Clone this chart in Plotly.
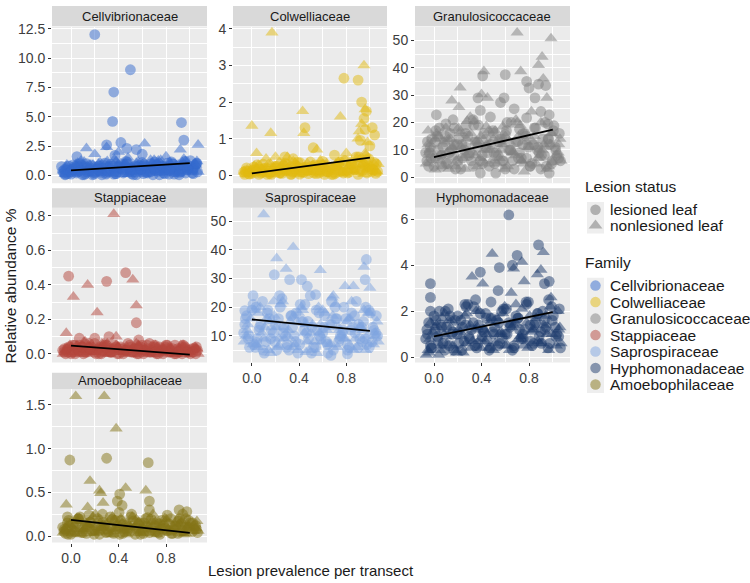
import plotly.graph_objects as go

# ---------------- data ----------------
families = ["Cellvibrionaceae", "Colwelliaceae", "Granulosicoccaceae", "Stappiaceae",
            "Saprospiraceae", "Hyphomonadaceae", "Amoebophilaceae"]
family_colors = ["#3369CD", "#E2BA10", "#7F7F7F", "#B4453C", "#7EA3E0", "#1B3A6B", "#847416"]
lesion_status = ["lesioned leaf", "nonlesioned leaf"]
x_ticks = [0.0, 0.4, 0.8]

# shared jittered lesion-prevalence positions (same samples in every family)
band_les_x = [-0.06, -0.03, 0.0, 0.03, 0.06, 0.09, 0.12, 0.15, 0.18, 0.21, 0.24, 0.27, 0.3,
              0.33, 0.36, 0.39, 0.42, 0.45, 0.48, 0.51, 0.54, 0.57, 0.6, 0.63, 0.66, 0.69,
              0.72, 0.75, 0.78, 0.81, 0.84, 0.87, 0.9, 0.93, 0.96, 0.99, 1.02, 1.05]
band_non_x = [-0.05, -0.01, 0.04, 0.07, 0.11, 0.14, 0.19, 0.23, 0.26, 0.31, 0.35, 0.38, 0.43,
              0.47, 0.5, 0.55, 0.58, 0.62, 0.67, 0.71, 0.74, 0.79, 0.83, 0.86, 0.91, 0.95,
              0.98, 1.03, 1.06]
band2_les_x = [-0.07, -0.045, -0.02, 0.01, 0.045, 0.075, 0.105, 0.135, 0.165, 0.195, 0.225,
               0.255, 0.285, 0.315, 0.345, 0.375, 0.405, 0.435, 0.465, 0.495, 0.525, 0.555,
               0.585, 0.615, 0.645, 0.675, 0.705, 0.735, 0.765, 0.795, 0.825, 0.855, 0.885,
               0.915, 0.945, 0.975, 1.005, 1.035, 1.065]
band2_non_x = [-0.065, -0.035, 0.02, 0.05, 0.085, 0.125, 0.16, 0.205, 0.245, 0.275, 0.325,
               0.365, 0.395, 0.445, 0.485, 0.515, 0.565, 0.595, 0.635, 0.685, 0.725, 0.755,
               0.805, 0.845, 0.875, 0.925, 0.965, 0.995, 1.045, 1.07]
band3_les_x = [-0.055, -0.025, 0.015, 0.035, 0.065, 0.095, 0.13, 0.16, 0.2, 0.235, 0.265,
               0.295, 0.335, 0.37, 0.41, 0.44, 0.475, 0.505, 0.545, 0.575, 0.61, 0.64, 0.675,
               0.71, 0.745, 0.775, 0.81, 0.845, 0.875, 0.905, 0.935, 0.965, 0.995, 1.025, 1.055]
band3_non_x = [-0.04, 0.01, 0.055, 0.1, 0.15, 0.185, 0.22, 0.27, 0.305, 0.355, 0.39, 0.42,
               0.46, 0.53, 0.57, 0.6, 0.655, 0.69, 0.735, 0.78, 0.82, 0.89, 0.94, 0.985, 1.05]

# Cellvibrionaceae
cel_les_x = [0.20, 0.50, 0.36, 0.35, 0.93, 0.95, -0.08, 0.05, 0.30, 0.42, 0.55, 0.37, 0.60, 0.47,
             -0.05, 0.0, 0.03, 0.08, 0.11, 0.14, 0.19, 0.23, 0.26, 0.31, 0.35, 0.38, 0.43, 0.47,
             0.5, 0.55, 0.59, 0.62, 0.67, 0.7, 0.74, 0.79, 0.83, 0.86, 0.91, 0.95, 0.98, 1.03, 1.06]
cel_les_y = [12.0, 9.0, 7.1, 4.6, 4.5, 3.0, 0.75, 1.6, 2.6, 2.8, 2.2, 1.7, 1.8, 2.3,
             0.05, 0.3, 0.75, 0.4, 0.05, 0.65, 0.25, 0.5, 0.05, 0.35, 0.8, 0.15, 0.6, 0.95,
             0.4, 0.05, 0.55, 0.85, 0.3, 0.6, 1.0, 0.15, 0.45, 0.95, 0.05, 0.8, 0.5, 0.15, 1.05]
cel_les_band_y = [0.2, 0.45, 0.1, 0.6, 0.3, 0.85, 0.15, 0.5, 0.05, 0.7, 0.35, 0.9, 0.2, 0.55,
                  0.1, 0.75, 1.0, 0.3, 0.6, 0.15, 0.8, 0.4, 1.1, 0.25, 0.65, 0.05, 0.9, 0.45,
                  0.2, 1.05, 0.55, 0.1, 0.75, 0.35, 1.2, 0.6, 0.2, 0.9]
cel_les_band2_y = [0.35, 0.1, 0.8, 0.5, 0.2, 1.0, 0.65, 0.3, 0.9, 0.1, 0.55, 0.25, 1.05, 0.7,
                   0.4, 0.15, 0.85, 0.5, 1.2, 0.3, 0.05, 0.7, 0.45, 0.95, 0.2, 0.6, 1.15, 0.35,
                   0.8, 0.5, 0.1, 1.0, 0.65, 0.25, 0.9, 0.45, 1.25, 0.6, 0.3]
cel_les_band3_y = [0.5, 0.15, 0.9, 0.35, 0.7, 0.05, 1.0, 0.45, 0.25, 0.8, 0.6, 0.1, 0.95, 0.4,
                   0.7, 0.2, 1.1, 0.55, 0.3, 0.85, 0.15, 0.65, 1.0, 0.4, 0.05, 0.75, 0.5, 1.15,
                   0.3, 0.9, 0.6, 0.2, 0.8, 0.45, 1.0]
cel_non_x = [0.13, 0.30, 0.62, 1.07, 0.92, 0.40, 0.48, 0.20, 0.80, 0.70]
cel_non_y = [2.3, 2.4, 2.7, 2.6, 2.2, 2.0, 1.5, 1.8, 1.6, 1.3]
cel_non_band_y = [0.1, 0.55, 0.95, 0.3, 1.15, 0.6, 0.2, 1.0, 0.45, 0.8, 0.1, 1.2, 0.5, 0.85,
                  0.25, 1.05, 0.6, 0.1, 1.3, 0.45, 0.9, 0.2, 1.1, 0.55, 0.15, 1.4, 0.35, 0.8, 1.2]
cel_non_band2_y = [0.4, 0.9, 0.15, 0.7, 1.25, 0.3, 0.85, 0.5, 1.1, 0.2, 0.65, 1.35, 0.4, 0.95,
                   0.1, 0.75, 1.15, 0.35, 0.6, 1.0, 0.25, 1.3, 0.5, 0.9, 0.15, 0.7, 1.2, 0.45,
                   1.0, 0.3]
cel_non_band3_y = [0.7, 0.3, 1.05, 0.5, 0.15, 0.9, 0.6, 0.25, 1.2, 0.4, 0.8, 0.1, 1.0, 0.55,
                   0.35, 0.95, 0.2, 0.7, 1.25, 0.45, 0.85, 0.3, 1.1, 0.6, 0.9]

# Colwelliaceae
col_les_x = [0.78, 0.90, 0.93, 0.95, 0.97, 1.02, 1.04, 0.45, 0.52, 0.70, 0.92, 1.00, 0.28, 0.35, 0.96]
col_les_y = [2.65, 2.6, 2.0, 1.55, 1.75, 1.3, 1.1, 1.3, 0.75, 0.55, 0.95, 0.80, 0.5, 0.45, 1.25]
col_les_band_y = [0.02, 0.1, 0.05, 0.15, 0.02, 0.08, 0.2, 0.04, 0.12, 0.25, 0.06, 0.18, 0.3,
                  0.02, 0.14, 0.35, 0.08, 0.22, 0.04, 0.16, 0.28, 0.06, 0.38, 0.12, 0.2, 0.02,
                  0.25, 0.1, 0.4, 0.06, 0.3, 0.15, 0.02, 0.35, 0.2, 0.45, 0.1, 0.05]
col_les_band2_y = [0.08, 0.2, 0.03, 0.14, 0.28, 0.06, 0.18, 0.1, 0.02, 0.24, 0.12, 0.05, 0.32,
                   0.16, 0.08, 0.26, 0.03, 0.2, 0.12, 0.36, 0.06, 0.15, 0.28, 0.02, 0.1, 0.22,
                   0.05, 0.3, 0.14, 0.4, 0.08, 0.2, 0.5, 0.12, 0.3, 0.06, 0.18, 0.35, 0.1]
col_les_band3_y = [0.12, 0.04, 0.22, 0.08, 0.16, 0.3, 0.02, 0.1, 0.2, 0.06, 0.26, 0.14, 0.03,
                   0.18, 0.34, 0.08, 0.12, 0.24, 0.04, 0.16, 0.28, 0.1, 0.02, 0.2, 0.36, 0.06,
                   0.14, 0.3, 0.22, 0.5, 0.12, 0.42, 0.25, 0.15, 0.3]
col_non_x = [0.17, 0.95, 0.00, 0.16, 0.43, 0.75, 0.96, 0.04, 0.90, 0.93, 0.44, 0.55, 0.20, 0.80,
             0.98, 0.30, 0.12, 0.91, 0.96]
col_non_y = [3.9, 3.0, 1.35, 1.15, 1.75, 1.6, 1.8, 0.6, 1.0, 1.4, 1.15, 0.70, 0.50, 0.60,
             0.90, 0.5, 0.45, 1.2, 0.6]
col_non_band_y = [0.04, 0.12, 0.2, 0.06, 0.15, 0.3, 0.02, 0.35, 0.1, 0.22, 0.38, 0.05, 0.16,
                  0.32, 0.08, 0.25, 0.4, 0.1, 0.02, 0.3, 0.18, 0.05, 0.28, 0.12, 0.42, 0.03,
                  0.2, 0.33, 0.1]
col_non_band2_y = [0.1, 0.02, 0.25, 0.08, 0.18, 0.04, 0.3, 0.12, 0.22, 0.06, 0.15, 0.35, 0.02,
                   0.2, 0.1, 0.28, 0.05, 0.16, 0.32, 0.08, 0.24, 0.04, 0.14, 0.38, 0.1, 0.26,
                   0.55, 0.18, 0.06, 0.3]
col_non_band3_y = [0.15, 0.06, 0.28, 0.1, 0.02, 0.2, 0.12, 0.32, 0.05, 0.18, 0.26, 0.08, 0.14,
                   0.22, 0.04, 0.3, 0.12, 0.2, 0.35, 0.08, 0.25, 0.45, 0.3, 0.18, 0.12]

# Granulosicoccaceae
gra_les_x = [0.02, 0.60, 0.41, 0.37, 0.59, 0.56, 0.39, 0.01, -0.04, 0.78, 0.80, 0.88, 0.94, 0.85,
             0.90, 0.97, 0.78, 0.96, 1.01, 0.17, 0.50, 0.60, 0.17, 0.39, 0.52, 0.97, 0.27, 0.33,
             0.65, 0.72, 0.10]
gra_les_y = [22.8, 37.5, 37.0, 29.0, 29.0, 27.3, 24.4, 12.8, 9.0, 35.0, 32.6, 34.0, 33.5, 29.0,
             24.0, 22.8, 21.7, 19.4, 18.8, 18.0, 16.2, 15.6, 12.0, 1.5, 1.5, 1.5, 19.0, 21.0,
             20.0, 17.5, 19.5]
gra_les_band_y = [6, 11, 4, 15, 8, 13, 5, 10, 3, 14, 7, 11, 9, 4, 13, 6, 16, 9, 12, 5, 8, 14,
                  3, 10, 6, 13, 9, 16, 7, 4, 12, 10, 3, 8, 14, 5, 11, 7]
gra_les_band2_y = [9, 4, 14, 7, 18, 11, 5, 16, 8, 12, 3, 10, 15, 6, 13, 19, 8, 11, 4, 17, 9, 14,
                   6, 20, 10, 3, 13, 7, 16, 11, 5, 18, 9, 14, 4, 12, 17, 8, 6]
gra_les_band3_y = [13, 7, 17, 10, 4, 15, 9, 21, 6, 12, 16, 8, 19, 11, 5, 14, 22, 9, 13, 6, 17,
                   10, 25, 7, 12, 15, 4, 18, 11, 8, 20, 14, 6, 10, 16]
gra_non_x = [0.70, 0.985, 0.91, 0.88, 0.42, 0.73, 0.22, 0.15, 0.21, 0.40, 0.45, 0.90, 0.70, 0.28,
             0.22, 0.44, 0.12, 0.08, -0.05, 0.01, 0.76, 1.00, 0.92, 0.95, 0.34, 0.58]
gra_non_y = [52.8, 50.7, 44.0, 41.0, 38.7, 38.7, 32.7, 28.0, 25.6, 30.3, 29.0, 20.0, 20.0, 20.5,
             16.8, 18.6, 13.8, 7.8, 17.0, 2.8, 2.0, 5.5, 36.0, 29.0, 20.5, 18.5]
gra_non_band_y = [12, 7, 15, 4, 9, 14, 6, 11, 3, 16, 8, 13, 5, 10, 14, 7, 12, 4, 9, 15, 6, 11,
                  13, 5, 10, 3, 12, 8, 14]
gra_non_band2_y = [5, 10, 16, 8, 13, 3, 11, 18, 7, 14, 9, 4, 15, 12, 6, 17, 10, 3, 13, 8, 19, 5,
                   11, 15, 7, 12, 4, 16, 9, 6]
gra_non_band3_y = [9, 14, 6, 18, 11, 4, 16, 8, 22, 13, 7, 10, 17, 5, 12, 15, 9, 21, 6, 13, 24,
                   8, 11, 16, 12]

# Stappiaceae
sta_les_x = [-0.02, 0.30, 0.46, 0.55, 0.07, 0.20, 0.32, 0.57, 0.66, 0.80]
sta_les_y = [0.45, 0.42, 0.47, 0.18, 0.09, 0.09, 0.10, 0.08, 0.06, 0.05]
sta_les_band_y = [0.01, 0.03, 0.0, 0.05, 0.02, 0.04, 0.01, 0.06, 0.02, 0.0, 0.04, 0.02, 0.05,
                  0.01, 0.03, 0.0, 0.04, 0.02, 0.06, 0.01, 0.03, 0.0, 0.05, 0.02, 0.01, 0.04,
                  0.0, 0.03, 0.02, 0.05, 0.01, 0.0, 0.03, 0.02, 0.04, 0.01, 0.03, 0.0]
sta_les_band2_y = [0.02, 0.0, 0.04, 0.01, 0.03, 0.05, 0.0, 0.02, 0.04, 0.01, 0.03, 0.0, 0.05,
                   0.02, 0.01, 0.04, 0.0, 0.03, 0.02, 0.05, 0.01, 0.0, 0.04, 0.02, 0.03, 0.01,
                   0.05, 0.0, 0.02, 0.04, 0.01, 0.03, 0.0, 0.02, 0.05, 0.01, 0.0, 0.03, 0.02]
sta_les_band3_y = [0.03, 0.01, 0.05, 0.0, 0.02, 0.04, 0.01, 0.03, 0.06, 0.0, 0.02, 0.04, 0.01,
                   0.05, 0.03, 0.0, 0.02, 0.04, 0.01, 0.03, 0.0, 0.05, 0.02, 0.01, 0.04, 0.0,
                   0.03, 0.02, 0.05, 0.01, 0.0, 0.03, 0.02, 0.01, 0.04]
sta_non_x = [0.36, 0.14, 0.52, 0.02, 0.22, 0.55, -0.04, 0.38, 0.12]
sta_non_y = [0.81, 0.40, 0.43, 0.33, 0.24, 0.28, 0.12, 0.10, 0.07]
sta_non_band_y = [0.02, 0.05, 0.0, 0.03, 0.07, 0.01, 0.04, 0.02, 0.06, 0.0, 0.03, 0.05, 0.01,
                  0.04, 0.02, 0.06, 0.0, 0.03, 0.01, 0.05, 0.02, 0.0, 0.04, 0.01, 0.03, 0.05,
                  0.0, 0.02, 0.03]
sta_non_band2_y = [0.0, 0.03, 0.01, 0.05, 0.02, 0.0, 0.04, 0.01, 0.03, 0.06, 0.0, 0.02, 0.04,
                   0.01, 0.0, 0.03, 0.05, 0.01, 0.02, 0.0, 0.04, 0.02, 0.01, 0.03, 0.0, 0.05,
                   0.02, 0.01, 0.04, 0.0]
sta_non_band3_y = [0.01, 0.04, 0.0, 0.02, 0.05, 0.01, 0.03, 0.0, 0.06, 0.02, 0.04, 0.01, 0.0,
                   0.03, 0.05, 0.02, 0.0, 0.04, 0.01, 0.03, 0.02, 0.0, 0.05, 0.01, 0.03]

# Saprospiraceae
sap_les_x = [0.97, 0.19, 0.32, 0.42, 0.47, 0.54, 0.96, 0.01, -0.06, 0.67, 0.81, 0.04]
sap_les_y = [36.6, 31.3, 29.6, 29.6, 27.3, 24.4, 29.6, 24.0, 18.8, 3.2, 3.7, 7.7]
sap_les_band_y = [14, 9, 19, 6, 12, 22, 8, 16, 11, 5, 20, 13, 7, 17, 10, 4, 15, 21, 9, 13, 6,
                  18, 11, 8, 14, 5, 16, 10, 20, 7, 12, 17, 6, 13, 9, 19, 8, 11]
sap_les_band2_y = [11, 17, 6, 21, 9, 14, 4, 19, 12, 8, 16, 23, 10, 5, 13, 18, 7, 15, 11, 24, 6,
                   12, 9, 17, 4, 14, 20, 8, 11, 16, 6, 13, 22, 9, 15, 7, 18, 12, 10]
sap_les_band3_y = [16, 10, 7, 20, 13, 5, 18, 9, 14, 24, 11, 6, 17, 8, 21, 12, 15, 4, 19, 10,
                   13, 7, 22, 16, 9, 12, 5, 18, 11, 14, 8, 20, 6, 13, 17]
sap_non_x = [0.10, 0.35, 0.21, 0.58, 0.95, 0.29, 0.79, 0.86, 1.00, 0.68, 0.23, 0.46]
sap_non_y = [52.3, 40.9, 37.0, 32.9, 34.0, 33.3, 27.3, 27.3, 26.7, 23.3, 6.6, 4.3]
sap_non_band_y = [10, 16, 7, 20, 13, 5, 17, 9, 22, 12, 6, 15, 19, 8, 11, 4, 14, 18, 7, 21, 12,
                  9, 16, 5, 13, 19, 10, 7, 15]
sap_non_band2_y = [8, 14, 19, 6, 11, 16, 4, 13, 21, 9, 15, 7, 18, 11, 5, 14, 20, 8, 12, 17, 6,
                   10, 15, 22, 9, 13, 5, 18, 11, 8]
sap_non_band3_y = [12, 7, 18, 9, 15, 22, 6, 13, 10, 17, 5, 20, 14, 8, 11, 19, 7, 24, 13, 9, 16,
                   6, 12, 18, 10]

# Hyphomonadaceae
hyp_les_x = [0.63, 0.88, 0.70, 0.66, 0.55, 0.39, -0.03, 0.54, 0.48, 0.35, 0.93, 0.97, -0.03,
             -0.03, 0.26]
hyp_les_y = [6.19, 4.89, 4.43, 4.0, 3.9, 3.7, 3.2, 2.9, 2.4, 2.5, 3.2, 3.3, 2.6, 2.0, 2.3]
hyp_les_band_y = [1.2, 0.5, 1.8, 0.9, 1.4, 0.3, 2.1, 1.0, 1.6, 0.6, 1.3, 2.2, 0.8, 1.5, 0.4,
                  1.9, 1.1, 0.7, 1.7, 1.3, 0.5, 2.0, 1.0, 1.5, 0.3, 1.8, 1.2, 0.8, 2.3, 1.4,
                  0.6, 1.9, 1.1, 1.6, 0.4, 2.2, 1.3, 0.9]
hyp_les_band2_y = [0.8, 1.5, 0.4, 1.1, 2.0, 0.6, 1.3, 1.8, 0.3, 1.0, 1.6, 0.7, 2.3, 1.2, 0.5,
                   1.4, 0.9, 1.9, 0.3, 1.1, 1.6, 0.6, 2.1, 1.0, 1.4, 0.4, 1.7, 0.8, 1.2, 2.4,
                   0.5, 1.5, 0.9, 2.0, 1.3, 0.6, 1.8, 1.0, 0.4]
hyp_les_band3_y = [1.0, 0.4, 1.6, 0.7, 1.3, 2.0, 0.5, 1.1, 1.8, 0.3, 1.4, 0.9, 2.2, 0.6, 1.2,
                   1.7, 0.4, 1.0, 1.5, 0.8, 2.1, 1.3, 0.5, 1.7, 1.0, 2.4, 0.7, 1.4, 1.9, 0.6,
                   1.2, 2.5, 1.6, 0.9, 2.1]
hyp_non_x = [0.92, 0.49, 0.67, 0.74, 0.32, 0.90, 0.87, 0.41, 0.65, 0.76, -0.03, 0.09]
hyp_non_y = [4.57, 4.5, 3.85, 4.15, 3.5, 3.8, 3.6, 3.2, 2.8, 3.3, 1.5, 1.9]
hyp_non_band_y = [0.3, 1.1, 0.1, 1.7, 0.6, 1.3, 0.2, 0.9, 1.8, 0.4, 1.2, 2.0, 0.7, 1.5, 0.3,
                  1.0, 1.9, 0.5, 1.4, 0.8, 2.1, 0.4, 1.2, 1.7, 0.6, 1.0, 2.2, 0.5, 1.3]
hyp_non_band2_y = [0.1, 0.8, 1.4, 0.3, 1.0, 1.6, 0.5, 1.2, 0.2, 1.9, 0.7, 1.3, 0.4, 1.0, 1.7,
                   0.6, 1.1, 2.2, 0.3, 1.5, 0.9, 0.5, 1.8, 1.2, 0.7, 1.4, 0.3, 1.0, 2.0, 0.6]
hyp_non_band3_y = [0.2, 1.3, 0.5, 0.9, 1.6, 0.3, 1.1, 0.6, 1.4, 2.0, 0.8, 1.2, 0.4, 1.7, 1.0,
                   0.5, 1.3, 2.3, 0.8, 1.5, 1.1, 0.6, 1.8, 2.6, 1.2]

# Amoebophilaceae
amo_les_x = [-0.01, 0.30, 0.65, 0.41, 0.39, 0.43, 0.66, 0.66, 0.91, 0.94, -0.03]
amo_les_y = [0.87, 0.89, 0.84, 0.48, 0.40, 0.35, 0.40, 0.30, 0.30, 0.25, 0.22]
amo_les_band_y = [0.05, 0.15, 0.02, 0.1, 0.2, 0.04, 0.12, 0.24, 0.06, 0.1, 0.02, 0.16, 0.08,
                  0.22, 0.03, 0.12, 0.18, 0.05, 0.1, 0.25, 0.02, 0.14, 0.07, 0.2, 0.04, 0.1,
                  0.16, 0.02, 0.12, 0.06, 0.2, 0.08, 0.03, 0.14, 0.1, 0.18, 0.05, 0.12]
amo_les_band2_y = [0.1, 0.03, 0.18, 0.07, 0.14, 0.22, 0.04, 0.11, 0.16, 0.02, 0.2, 0.09, 0.13,
                   0.05, 0.19, 0.08, 0.27, 0.03, 0.12, 0.06, 0.17, 0.1, 0.02, 0.15, 0.21, 0.07,
                   0.12, 0.04, 0.18, 0.09, 0.14, 0.03, 0.11, 0.2, 0.06, 0.28, 0.15, 0.08, 0.04]
amo_les_band3_y = [0.08, 0.02, 0.14, 0.05, 0.2, 0.1, 0.03, 0.16, 0.07, 0.12, 0.25, 0.04, 0.1,
                   0.18, 0.02, 0.13, 0.06, 0.22, 0.09, 0.15, 0.03, 0.11, 0.19, 0.05, 0.14, 0.08,
                   0.24, 0.03, 0.12, 0.17, 0.06, 0.2, 0.1, 0.15, 0.08]
amo_non_x = [0.04, 0.28, 0.38, 0.16, 0.24, 0.25, 0.46, 0.63, 0.27, -0.04, 0.14]
amo_non_y = [1.6, 1.6, 1.23, 0.63, 0.52, 0.49, 0.55, 0.52, 0.38, 0.36, 0.33]
amo_non_band_y = [0.06, 0.14, 0.02, 0.2, 0.08, 0.12, 0.03, 0.18, 0.1, 0.05, 0.22, 0.08, 0.15,
                  0.02, 0.1, 0.19, 0.05, 0.12, 0.03, 0.16, 0.08, 0.2, 0.04, 0.11, 0.14, 0.02,
                  0.1, 0.06, 0.17]
amo_non_band2_y = [0.04, 0.12, 0.08, 0.2, 0.03, 0.15, 0.1, 0.25, 0.05, 0.13, 0.02, 0.18, 0.09,
                   0.06, 0.14, 0.22, 0.03, 0.11, 0.07, 0.17, 0.02, 0.12, 0.19, 0.05, 0.09, 0.15,
                   0.03, 0.1, 0.13, 0.06]
amo_non_band3_y = [0.1, 0.03, 0.17, 0.06, 0.13, 0.22, 0.04, 0.09, 0.15, 0.02, 0.12, 0.2, 0.07,
                   0.1, 0.16, 0.03, 0.11, 0.25, 0.05, 0.14, 0.08, 0.18, 0.03, 0.12, 0.09]

# linear-fit lines (value at prevalence 0 and 1)
trend_y0 = [0.42, 0.05, 7.3, 0.047, 15.7, 0.90, 0.186]
trend_y1 = [1.05, 0.48, 17.4, -0.005, 11.7, 1.96, 0.037]

# y-axis settings per panel: range, tick step, tick format
y_ranges = [[-0.67, 12.67], [-0.22, 4.06], [-2.2, 55.0], [-0.05, 0.846],
            [0.75, 54.6], [-0.23, 6.5], [-0.075, 1.683]]
y_dticks = [2.5, 1, 10, 0.2, 10, 2, 0.5]
y_formats = [".1f", "d", "d", ".1f", "d", "d", ".1f"]

les_x = [cel_les_x, col_les_x, gra_les_x, sta_les_x, sap_les_x, hyp_les_x, amo_les_x]
les_y = [cel_les_y, col_les_y, gra_les_y, sta_les_y, sap_les_y, hyp_les_y, amo_les_y]
les_band = [cel_les_band_y, col_les_band_y, gra_les_band_y, sta_les_band_y, sap_les_band_y,
            hyp_les_band_y, amo_les_band_y]
les_band2 = [cel_les_band2_y, col_les_band2_y, gra_les_band2_y, sta_les_band2_y,
             sap_les_band2_y, hyp_les_band2_y, amo_les_band2_y]
les_band3 = [cel_les_band3_y, col_les_band3_y, gra_les_band3_y, sta_les_band3_y,
             sap_les_band3_y, hyp_les_band3_y, amo_les_band3_y]
non_x = [cel_non_x, col_non_x, gra_non_x, sta_non_x, sap_non_x, hyp_non_x, amo_non_x]
non_y = [cel_non_y, col_non_y, gra_non_y, sta_non_y, sap_non_y, hyp_non_y, amo_non_y]
non_band = [cel_non_band_y, col_non_band_y, gra_non_band_y, sta_non_band_y, sap_non_band_y,
            hyp_non_band_y, amo_non_band_y]
non_band2 = [cel_non_band2_y, col_non_band2_y, gra_non_band2_y, sta_non_band2_y,
             sap_non_band2_y, hyp_non_band2_y, amo_non_band2_y]
non_band3 = [cel_non_band3_y, col_non_band3_y, gra_non_band3_y, sta_non_band3_y,
             sap_non_band3_y, hyp_non_band3_y, amo_non_band3_y]

# ---------------- layout geometry (pixels) ----------------
W, H = 750, 583
col_px = [(52, 207), (233, 387), (415, 570)]
row_px = [(21, 180), (205, 362), (389, 545)]
strip_px = [(0, 20.5), (185, 205), (372.5, 389)]
panel_pos = [(0, 0), (0, 1), (0, 2), (1, 0), (1, 1), (1, 2), (2, 0)]
show_x_labels = [False, False, False, False, True, True, True]
FONT = "Liberation Sans, Arial, sans-serif"
TICK_COLOR = "#3D3D3D"


def px_x(v):
    return v / W


def px_y(v):
    return (H - v) / H


def hex_rgba(h, a):
    h = h.lstrip("#")
    return "rgba(%d,%d,%d,%s)" % (int(h[0:2], 16), int(h[2:4], 16), int(h[4:6], 16), a)


def pairs(xs, ys):
    p = list(zip(xs, ys))
    return [a for a, _ in p], [b for _, b in p]


fig = go.Figure()
layout = dict(
    width=W, height=H, margin=dict(l=0, r=0, t=0, b=0),
    paper_bgcolor="white", plot_bgcolor="rgba(0,0,0,0)",
    showlegend=False, font=dict(family=FONT, color="#1A1A1A"),
)
shapes = []
annotations = []

for i, fam in enumerate(families):
    r, c = panel_pos[i]
    n = i + 1
    xa = "x" if n == 1 else "x%d" % n
    ya = "y" if n == 1 else "y%d" % n
    fill = hex_rgba(family_colors[i], 0.5)

    lx1, ly1 = pairs(les_x[i], les_y[i])
    lx2, ly2 = pairs(band_les_x, les_band[i])
    lx3, ly3 = pairs(band2_les_x, les_band2[i])
    lx4, ly4 = pairs(band3_les_x, les_band3[i])
    nx1, ny1 = pairs(non_x[i], non_y[i])
    nx2, ny2 = pairs(band_non_x, non_band[i])
    nx3, ny3 = pairs(band2_non_x, non_band2[i])
    nx4, ny4 = pairs(band3_non_x, non_band3[i])

    fig.add_trace(go.Scatter(x=nx2 + nx3 + nx4 + nx1, y=ny2 + ny3 + ny4 + ny1, mode="markers",
                             xaxis=xa, yaxis=ya, name=lesion_status[1],
                             marker=dict(symbol="triangle-up", size=11.5, color=fill,
                                         line=dict(width=0))))
    fig.add_trace(go.Scatter(x=lx2 + lx3 + lx4 + lx1, y=ly2 + ly3 + ly4 + ly1, mode="markers",
                             xaxis=xa, yaxis=ya, name=lesion_status[0],
                             marker=dict(symbol="circle", size=10.8, color=fill,
                                         line=dict(width=0))))
    fig.add_trace(go.Scatter(x=[0, 1], y=[trend_y0[i], trend_y1[i]], mode="lines",
                             xaxis=xa, yaxis=ya, line=dict(color="black", width=1.8),
                             hoverinfo="skip"))

    x0, x1 = col_px[c]
    t, b = row_px[r]
    key_x = "xaxis" if n == 1 else "xaxis%d" % n
    key_y = "yaxis" if n == 1 else "yaxis%d" % n
    layout[key_x] = dict(
        domain=[px_x(x0), px_x(x1)], anchor=ya, range=[-0.16, 1.145],
        tickmode="array", tickvals=x_ticks, ticktext=["%.1f" % v for v in x_ticks],
        showticklabels=show_x_labels[i], ticks="outside" if show_x_labels[i] else "",
        ticklen=3, tickcolor="#333333", tickfont=dict(size=14, color=TICK_COLOR),
        showgrid=True, gridcolor="white", gridwidth=1.1, zeroline=False, showline=False,
        minor=dict(tickvals=[-0.2, 0.2, 0.6, 1.0], showgrid=True, gridcolor="white",
                   gridwidth=0.5, ticks=""),
    )
    dt = y_dticks[i]
    layout[key_y] = dict(
        domain=[px_y(b), px_y(t)], anchor=xa, range=y_ranges[i],
        tickmode="linear", tick0=0, dtick=dt, tickformat=y_formats[i],
        ticks="outside", ticklen=3, tickcolor="#333333",
        tickfont=dict(size=14, color=TICK_COLOR),
        showgrid=True, gridcolor="white", gridwidth=1.1, zeroline=False, showline=False,
        minor=dict(tick0=dt / 2, dtick=dt, showgrid=True, gridcolor="white",
                   gridwidth=0.5, ticks=""),
    )
    # panel background
    shapes.append(dict(type="rect", xref="paper", yref="paper", x0=px_x(x0), x1=px_x(x1),
                       y0=px_y(b), y1=px_y(t), fillcolor="#EBEBEB", line=dict(width=0),
                       layer="below"))
    # facet strip
    st, sb = strip_px[r]
    shapes.append(dict(type="rect", xref="paper", yref="paper", x0=px_x(x0), x1=px_x(x1),
                       y0=px_y(sb), y1=px_y(st), fillcolor="#D9D9D9", line=dict(width=0),
                       layer="below"))
    annotations.append(dict(text=fam, xref="paper", yref="paper", x=px_x((x0 + x1) / 2),
                            y=px_y((st + sb) / 2), xanchor="center", yanchor="middle",
                            showarrow=False, font=dict(size=13, color="#1A1A1A")))

# axis titles
annotations.append(dict(text="Lesion prevalence per transect", xref="paper", yref="paper",
                        x=px_x(311), y=px_y(573), xanchor="center", yanchor="middle",
                        showarrow=False, font=dict(size=15, color="#1A1A1A")))
annotations.append(dict(text="Relative abundance %", xref="paper", yref="paper",
                        x=px_x(11), y=px_y(285), xanchor="center", yanchor="middle",
                        textangle=-90, showarrow=False, font=dict(size=15.5, color="#1A1A1A")))

# ---------------- legend (drawn on an overlay axis in pixel units) ----------------
layout["xaxis8"] = dict(domain=[577.5 / W, 1.0], range=[577.5, 750], visible=False,
                        fixedrange=True, anchor="y8")
layout["yaxis8"] = dict(domain=[0, 1], range=[583, 0], visible=False, fixedrange=True,
                        anchor="x8")
key_x = 595.5
status_y = [207, 223]
family_y = [284 + 16.75 * k for k in range(len(families))]
shapes.append(dict(type="rect", xref="x8", yref="y8", x0=587, x1=604, y0=199, y1=231,
                   fillcolor="#EEEEEE", line=dict(width=0), layer="below"))
shapes.append(dict(type="rect", xref="x8", yref="y8", x0=587, x1=604, y0=276, y1=393,
                   fillcolor="#EEEEEE", line=dict(width=0), layer="below"))
fig.add_trace(go.Scatter(x=[key_x, key_x], y=status_y, mode="markers", xaxis="x8", yaxis="y8",
                         marker=dict(symbol=["circle", "triangle-up"], size=[10.5, 12],
                                     color="rgba(90,90,90,0.6)", line=dict(width=0)),
                         hoverinfo="skip"))
fig.add_trace(go.Scatter(x=[key_x] * len(families), y=family_y, mode="markers",
                         xaxis="x8", yaxis="y8",
                         marker=dict(symbol="circle", size=10.5,
                                     color=[hex_rgba(cc, 0.5) for cc in family_colors],
                                     line=dict(width=0)),
                         hoverinfo="skip"))
annotations.append(dict(text="Lesion status", xref="paper", yref="paper", x=px_x(583),
                        y=px_y(183), xanchor="left", yanchor="middle", showarrow=False,
                        font=dict(size=15.5, color="#1A1A1A")))
annotations.append(dict(text="Family", xref="paper", yref="paper", x=px_x(583),
                        y=px_y(261), xanchor="left", yanchor="middle", showarrow=False,
                        font=dict(size=15.5, color="#1A1A1A")))
for lab, yy in zip(lesion_status, status_y):
    annotations.append(dict(text=lab, xref="paper", yref="paper", x=px_x(608), y=px_y(yy),
                            xanchor="left", yanchor="middle", showarrow=False,
                            font=dict(size=15.5, color="#1A1A1A")))
for lab, yy in zip(families, family_y):
    annotations.append(dict(text=lab, xref="paper", yref="paper", x=px_x(608), y=px_y(yy),
                            xanchor="left", yanchor="middle", showarrow=False,
                            font=dict(size=15.5, color="#1A1A1A")))

layout["shapes"] = shapes
layout["annotations"] = annotations
fig.update_layout(**layout)
fig.write_html("out.html", config={"displayModeBar": False},
               post_script="document.body.style.margin='0';document.body.style.padding='0';")
